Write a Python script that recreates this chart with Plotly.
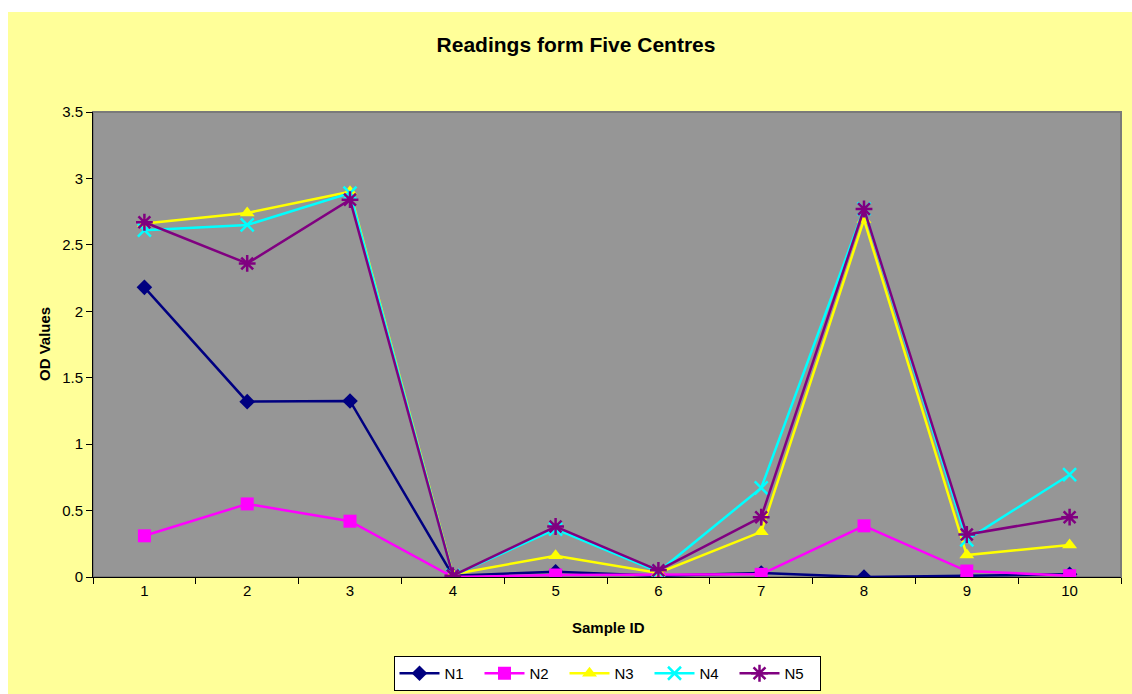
import plotly.graph_objects as go

# Sample IDs and OD readings from the five centres
sample_ids = ["1", "2", "3", "4", "5", "6", "7", "8", "9", "10"]
n1 = [2.18, 1.32, 1.325, 0.01, 0.04, 0.01, 0.03, 0.0, 0.01, 0.02]
n2 = [0.31, 0.55, 0.42, 0.0, 0.015, 0.02, 0.02, 0.385, 0.045, 0.01]
n3 = [2.66, 2.74, 2.90, 0.02, 0.16, 0.03, 0.34, 2.69, 0.165, 0.24]
n4 = [2.61, 2.65, 2.89, 0.01, 0.36, 0.04, 0.67, 2.77, 0.28, 0.77]
n5 = [2.67, 2.36, 2.84, 0.01, 0.38, 0.05, 0.45, 2.77, 0.32, 0.45]
y_ticks = [0, 0.5, 1, 1.5, 2, 2.5, 3, 3.5]

FONT = "Liberation Sans, Arial, sans-serif"

series = [
    ("N1", n1, "#000080", dict(symbol="diamond", size=12)),
    ("N2", n2, "#FF00FF", dict(symbol="square", size=13)),
    ("N3", n3, "#FFFF00", dict(symbol="triangle-up", size=13)),
    ("N4", n4, "#00FFFF", dict(symbol="x-thin", size=13, line=dict(width=2.5, color="#00FFFF"))),
    ("N5", n5, "#800080", dict(symbol="asterisk", size=14, line=dict(width=2.5, color="#800080"))),
]

fig = go.Figure()
for name, vals, color, marker in series:
    m = dict(color=color, **marker)
    fig.add_trace(go.Scatter(
        x=sample_ids, y=vals, name=name, mode="lines+markers",
        line=dict(color=color, width=2.5), marker=m,
    ))

# Plot geometry in pixels
W, H = 1132, 694
L, R, T, B = 93, 11, 112, 117
pw, ph = W - L - R, H - T - B

def px_x(x):
    return (x - L) / pw

def px_y(y):
    return (H - B - y) / ph

shapes = [
    # chart area background
    dict(type="rect", xref="paper", yref="paper", layer="below",
         x0=px_x(8), x1=px_x(W + 10), y0=px_y(H + 10), y1=px_y(12),
         fillcolor="#FFFF99", line=dict(width=0)),
    # plot area background with its border
    dict(type="rect", xref="paper", yref="paper", layer="below",
         x0=0, x1=1, y0=0, y1=1,
         fillcolor="#969696", line=dict(color="#7a7a7a", width=2)),
]

annotations = [
    dict(text="<b>Sample ID</b>", xref="paper", yref="paper", x=px_x(608), y=px_y(627),
         xanchor="center", yanchor="middle", showarrow=False, font=dict(size=15)),
    dict(text="<b>OD Values</b>", xref="paper", yref="paper", x=px_x(44), y=px_y(344),
         xanchor="center", yanchor="middle", showarrow=False, textangle=-90, font=dict(size=15)),
]

fig.update_layout(
    width=W, height=H,
    margin=dict(l=L, r=R, t=T, b=B, autoexpand=False),
    paper_bgcolor="white",
    plot_bgcolor="rgba(0,0,0,0)",
    font=dict(family=FONT, size=15, color="black"),
    title=dict(text="<b>Readings form Five Centres</b>", x=576 / W, xanchor="center",
               y=1 - 45 / H, yanchor="middle", font=dict(size=21, family=FONT)),
    shapes=shapes,
    annotations=annotations,
    showlegend=True,
    legend=dict(orientation="h", x=px_x(607), xanchor="center", y=px_y(691), yanchor="bottom",
                bgcolor="white", bordercolor="black", borderwidth=1,
                font=dict(size=15, family=FONT), tracegroupgap=0,
                entrywidth=30, entrywidthmode="pixels", itemwidth=40),
    xaxis=dict(
        type="category", tickson="boundaries", ticks="outside", ticklen=6,
        tickcolor="black", showline=True, linecolor="black", linewidth=1,
        showgrid=False, zeroline=False, range=[-0.5, 9.5], automargin=False,
        tickfont=dict(size=15),
    ),
    yaxis=dict(
        range=[0, 3.5], tickvals=y_ticks, ticks="outside", ticklen=6, tickcolor="black",
        showline=True, linecolor="black", linewidth=1, showgrid=False, zeroline=False,
        automargin=False, tickfont=dict(size=15),
    ),
)

fig.write_html("out.html")
